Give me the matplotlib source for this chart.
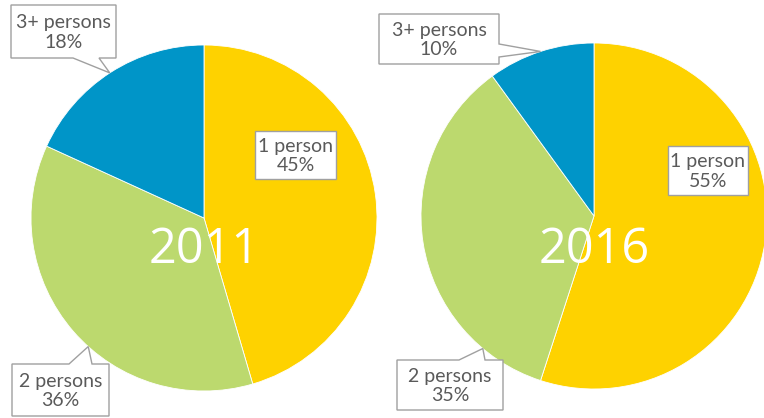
import matplotlib
matplotlib.use("Agg")
import matplotlib.pyplot as plt
from matplotlib.patches import Polygon
import numpy as np

# ---- data ----
categories = ["1 person", "2 persons", "3+ persons"]
years = ["2011", "2016"]
share_2011 = [45, 36, 18]
share_2016 = [55, 35, 10]

colors = ["#FED200", "#BCD96E", "#0095C8"]

W, H = 764, 418
fig = plt.figure(figsize=(W / 100, H / 100), dpi=100)
ax = fig.add_axes([0, 0, 1, 1])


def py(y):
    return H - y


R = 173
centers = [(204, py(218)), (594, py(216))]
for vals, c in zip([share_2011, share_2016], centers):
    ax.pie(vals, colors=colors, startangle=90, counterclock=False, center=c,
           radius=R, normalize=True, frame=True,
           wedgeprops=dict(edgecolor="white", linewidth=0.6))

ax.set_xlim(0, W)
ax.set_ylim(0, H)
ax.set_aspect("equal")
ax.axis("off")

# callout layout (pixel coords, y downward): box, pointer
layout = {
    (0, 0): dict(box=(255, 131, 336, 179), ptr=None),
    (0, 1): dict(box=(12, 364, 109, 416), ptr=("top", 69, 92, 228)),
    (0, 2): dict(box=(11, 5, 116, 58), ptr=("bottom", 73, 99, 123)),
    (1, 0): dict(box=(668, 146, 748, 195), ptr=None),
    (1, 1): dict(box=(397, 360, 503, 410), ptr=("top", 459, 485, 230)),
    (1, 2): dict(box=(379, 14, 499, 64), ptr=("right", 44, 57, 108)),
}

for yi, vals in enumerate([share_2011, share_2016]):
    cx, cy = centers[yi]
    for ci, (cat, v) in enumerate(zip(categories, vals)):
        spec = layout[(yi, ci)]
        x0, y0, x1, y1 = spec["box"]
        ptr = spec["ptr"]
        if ptr is None:
            verts = [(x0, y0), (x1, y0), (x1, y1), (x0, y1)]
        else:
            side, b0, b1, ang = ptr
            a = np.deg2rad(ang)
            tx = cx + R * np.cos(a)
            ty = H - (cy + R * np.sin(a))
            tip = (tx, ty)
            if side == "top":
                verts = [(x0, y0), (b0, y0), tip, (b1, y0), (x1, y0), (x1, y1), (x0, y1)]
            elif side == "bottom":
                verts = [(x0, y0), (x1, y0), (x1, y1), (b1, y1), tip, (b0, y1), (x0, y1)]
            else:
                verts = [(x0, y0), (x1, y0), (x1, b0), tip, (x1, b1), (x1, y1), (x0, y1)]
        verts = [(vx, py(vy)) for vx, vy in verts]
        ax.add_patch(Polygon(verts, closed=True, facecolor="white",
                             edgecolor="#A0A0A0", linewidth=1.0, zorder=5))
        ax.text((x0 + x1) / 2, py((y0 + y1) / 2 + 1), f"{cat}\n{v}%",
                ha="center", va="center", fontsize=14, color="#5A5A5A",
                family="Lato", linespacing=1.2, zorder=6)

for (cx, cy), yr in zip(centers, years):
    ax.text(cx, py(263), yr, ha="center", va="baseline", fontsize=35,
            color="white", family="Open Sans", zorder=4)

fig.savefig("out.png", dpi=100)
